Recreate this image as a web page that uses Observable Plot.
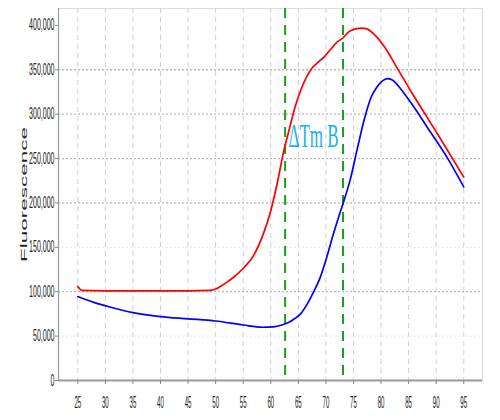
<!DOCTYPE html>
<html>
<head>
<meta charset="utf-8">
<script src="https://cdn.jsdelivr.net/npm/d3@7"></script>
<script src="https://cdn.jsdelivr.net/npm/@observablehq/plot@0.6"></script>
<style>
  html, body { margin: 0; padding: 0; background: #fff; }
  #chart { width: 500px; height: 420px; }
</style>
</head>
<body>
<div id="chart"></div>
<script>
// ---- data ----
const redTemps = [25, 25.8, 30, 35, 40, 45, 49, 50, 51, 52, 53.2, 55.1, 56.9, 58.7, 59.9, 61.2, 62.3, 63.4, 64.5, 65.5, 66.5, 67.5, 68.5, 69.6, 71, 72, 73.1, 74.2, 75.4, 76.5, 77.4, 78.9, 80.7, 83.2, 85.5, 87.9, 91, 95];
const redValues = [106000, 101500, 101000, 101000, 101000, 101000, 101500, 103000, 106500, 110500, 116000, 127000, 141000, 166000, 189000, 223000, 257000, 284000, 310000, 328000, 342000, 352000, 358000, 364000, 374000, 381000, 386000, 393000, 396000, 397000, 396000, 389000, 375000, 349000, 325000, 301000, 270000, 229000];

const blueTemps = [25, 27.9, 31, 35, 40, 45, 50, 55, 58.5, 60.5, 62.3, 63.3, 64.3, 65.4, 66.6, 67.7, 68.9, 70.2, 71.3, 72.3, 73.3, 74.4, 75.8, 77, 78.2, 79.2, 80, 81.2, 82.2, 83.1, 85.4, 88.4, 92, 95];
const blueValues = [94600, 88000, 82500, 76500, 72000, 69500, 67000, 62500, 60000, 60500, 63000, 65500, 69500, 75000, 86000, 99000, 115000, 140000, 164000, 184000, 203000, 226000, 264000, 295000, 319000, 330000, 336000, 340000, 338000, 332000, 313000, 285000, 251000, 218000];

const tmLines = [62.6, 73.1];
const annotationText = ["\u0394Tm B"];
const annotationX = [67.75];
const annotationY = [263000];

const xTicks = [25, 30, 35, 40, 45, 50, 55, 60, 65, 70, 75, 80, 85, 90, 95];
const yTicks = [0, 50000, 100000, 150000, 200000, 250000, 300000, 350000, 400000];
const yGridStrong = [100000, 200000, 250000, 300000, 350000];
const yGridFaint = [50000, 150000];
const yLabel = "Fluorescence";

// ---- build tables ----
const red = redTemps.map((t, i) => ({t, v: redValues[i]}));
const blue = blueTemps.map((t, i) => ({t, v: blueValues[i]}));
const notes = annotationText.map((s, i) => ({s, x: annotationX[i], y: annotationY[i]}));

const chart = Plot.plot({
  width: 500,
  height: 420,
  marginLeft: 58,
  marginRight: 18,
  marginTop: 8,
  marginBottom: 40,
  style: {background: "#fff", fontFamily: "'Liberation Sans', Arial, sans-serif", overflow: "visible"},
  x: {domain: [21.5, 98.4]},
  y: {domain: [0, 419000]},
  marks: [
    Plot.frame({stroke: "#dcdcdc"}),
    Plot.gridX(xTicks, {stroke: "#cfcfcf", strokeOpacity: 1, strokeDasharray: "5,4"}),
    Plot.gridY(yGridStrong, {stroke: "#b8b8b8", strokeOpacity: 1, strokeDasharray: "2,2", strokeWidth: 1.3}),
    Plot.gridY(yGridFaint, {stroke: "#e6e6e6", strokeOpacity: 1, strokeDasharray: "2,2"}),
    Plot.ruleY([0], {stroke: "#999", strokeWidth: 2}),
    Plot.ruleX([21.5], {stroke: "#999", strokeWidth: 1.2}),
    Plot.axisX(xTicks, {tickSize: 4, tickPadding: 11, fontSize: 17, stroke: "#888", fill: "#222", label: null, tickFormat: d => String(d), className: "xt"}),
    Plot.axisY(yTicks, {tickSize: 3, tickPadding: 1, fontSize: 16, stroke: "#888", fill: "#222", label: null, tickFormat: d3.format(","), className: "yt"}),
    Plot.text([yLabel], {frameAnchor: "left", dx: -34, rotate: -90, fontSize: 9, fill: "#222", className: "ylab"}),
    Plot.ruleX(tmLines, {stroke: "#1aa01a", strokeWidth: 2, strokeDasharray: "10,7"}),
    Plot.line(red, {x: "t", y: "v", stroke: "#ff0000", strokeWidth: 1.7, curve: "monotone-x"}),
    Plot.line(blue, {x: "t", y: "v", stroke: "#0000ff", strokeWidth: 1.7, curve: "monotone-x"}),
    Plot.text(notes, {x: "x", y: "y", text: "s", fontSize: 34, fill: "#1ab2ee", fontFamily: "'Liberation Serif', 'Times New Roman', serif", lineAnchor: "bottom", textAnchor: "middle", className: "note"})
  ]
});
document.getElementById("chart").appendChild(chart);

// compress / stretch text along its direction like the reference; anchor explicitly
function squeeze(sel, target, anchor) {
  chart.querySelectorAll(sel).forEach(t => {
    const w = t.getComputedTextLength();
    const len = typeof target === "function" ? target(w) : target;
    t.setAttribute("textLength", len);
    t.setAttribute("lengthAdjust", "spacingAndGlyphs");
    t.setAttribute("text-anchor", "start");
    const shift = anchor === "middle" ? -len / 2 : anchor === "end" ? -len : 0;
    t.setAttribute("dx", shift);
  });
}
squeeze('g[aria-label="x-axis tick label"] text', w => w * 0.36, "middle");
squeeze('g[aria-label="y-axis tick label"] text', w => w * 0.44, "end");
squeeze('g.ylab text', 135, "middle");
squeeze('g.note text', 50, "middle");
</script>
</body>
</html>
